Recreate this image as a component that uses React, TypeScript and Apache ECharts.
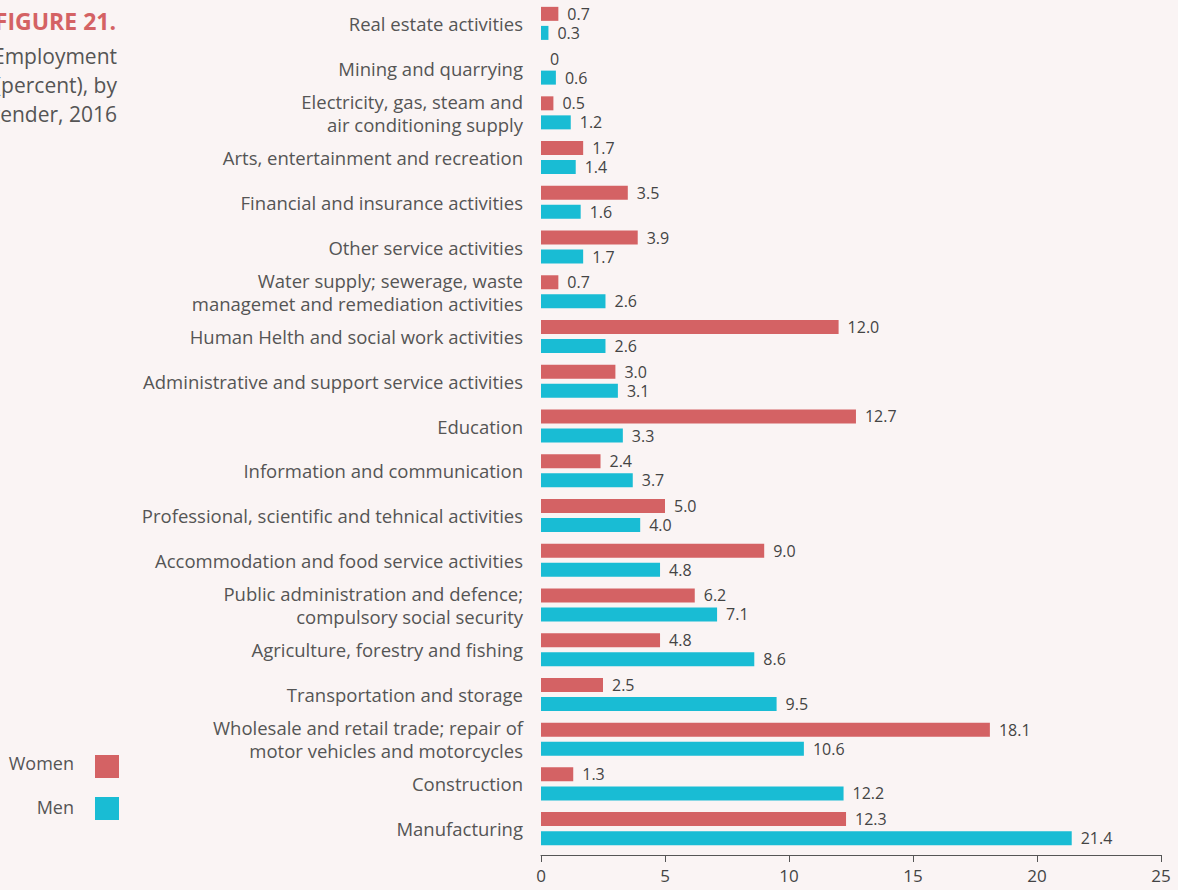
import React, { useEffect, useRef } from "react";
import * as echarts from "echarts";

const categories = [
  "Real estate activities",
  "Mining and quarrying",
  "Electricity, gas, steam and\nair conditioning supply",
  "Arts, entertainment and recreation",
  "Financial and insurance activities",
  "Other service activities",
  "Water supply; sewerage, waste\nmanagemet and remediation activities",
  "Human Helth and social work activities",
  "Administrative and support service activities",
  "Education",
  "Information and communication",
  "Professional, scientific and tehnical activities",
  "Accommodation and food service activities",
  "Public administration and defence;\ncompulsory social security",
  "Agriculture, forestry and fishing",
  "Transportation and storage",
  "Wholesale and retail trade; repair of\nmotor vehicles and motorcycles",
  "Construction",
  "Manufacturing",
];

const women = [0.7, 0, 0.5, 1.7, 3.5, 3.9, 0.7, 12.0, 3.0, 12.7, 2.4, 5.0, 9.0, 6.2, 4.8, 2.5, 18.1, 1.3, 12.3];
const men = [0.3, 0.6, 1.2, 1.4, 1.6, 1.7, 2.6, 2.6, 3.1, 3.3, 3.7, 4.0, 4.8, 7.1, 8.6, 9.5, 10.6, 12.2, 21.4];

const seriesNames = ["Women", "Men"];
const colors = ["#d46264", "#19bcd4"];

const titleText = "FIGURE 21.";
const subtitleLines = ["Employment", "(percent), by", "gender, 2016"];

const FONT = "'Open Sans', sans-serif";

export default function App() {
  const ref = useRef<HTMLDivElement>(null);
  useEffect(() => {
    if (!ref.current) return;
    const chart = echarts.init(ref.current, undefined, { renderer: "svg" });
    const fmt = (p: any) => (p.value === 0 ? "0" : Number(p.value).toFixed(1));
    const label = {
      show: true,
      position: "right",
      distance: 9,
      color: "#444",
      fontSize: 16,
      fontFamily: FONT,
      formatter: fmt,
    };
    const subtitle = subtitleLines.map((t, i) => ({
      type: "text",
      x: 117,
      y: 56 + i * 29,
      style: {
        text: t,
        fill: "#555",
        font: `21px ${FONT}`,
        textAlign: "right",
        textVerticalAlign: "middle",
      },
    }));
    chart.setOption({
      animation: false,
      backgroundColor: "#faf4f4",
      textStyle: { fontFamily: FONT },
      grid: { left: 541, right: 17, top: 1, bottom: 39, containLabel: false },
      xAxis: {
        type: "value",
        min: 0,
        max: 25,
        interval: 5,
        offset: 4,
        splitLine: { show: false },
        axisLine: { show: true, lineStyle: { color: "#555", width: 1 } },
        axisTick: { show: true, length: 7, lineStyle: { color: "#555" } },
        axisLabel: { color: "#444", fontSize: 17, fontFamily: FONT, margin: 12 },
      },
      yAxis: {
        type: "category",
        data: categories,
        inverse: true,
        axisLine: { show: false },
        axisTick: { show: false },
        axisLabel: {
          color: "#555",
          fontSize: 18.5,
          fontFamily: FONT,
          margin: 18,
          lineHeight: 22.5,
          align: "right",
        },
      },
      series: [
        {
          name: seriesNames[0],
          type: "bar",
          data: women,
          barWidth: 14,
          barGap: "36%",
          itemStyle: { color: colors[0] },
          label,
        },
        {
          name: seriesNames[1],
          type: "bar",
          data: men,
          barWidth: 14,
          barGap: "36%",
          itemStyle: { color: colors[1] },
          label,
        },
      ],
      graphic: [
        {
          type: "text",
          x: 116,
          y: 21,
          style: {
            text: titleText,
            fill: colors[0],
            font: `bold 23px ${FONT}`,
            textAlign: "right",
            textVerticalAlign: "middle",
          },
        },
        ...subtitle,
        {
          type: "text",
          x: 74,
          y: 763,
          style: {
            text: seriesNames[0],
            fill: "#555",
            font: `18px ${FONT}`,
            textAlign: "right",
            textVerticalAlign: "middle",
          },
        },
        {
          type: "rect",
          shape: { x: 95, y: 755, width: 24, height: 23 },
          style: { fill: colors[0] },
        },
        {
          type: "text",
          x: 74,
          y: 807,
          style: {
            text: seriesNames[1],
            fill: "#555",
            font: `18px ${FONT}`,
            textAlign: "right",
            textVerticalAlign: "middle",
          },
        },
        {
          type: "rect",
          shape: { x: 95, y: 797, width: 24, height: 23 },
          style: { fill: colors[1] },
        },
      ],
    });
    return () => chart.dispose();
  }, []);
  return <div ref={ref} style={{ width: 1178, height: 890, position: "fixed", left: 0, top: 0 }} />;
}
